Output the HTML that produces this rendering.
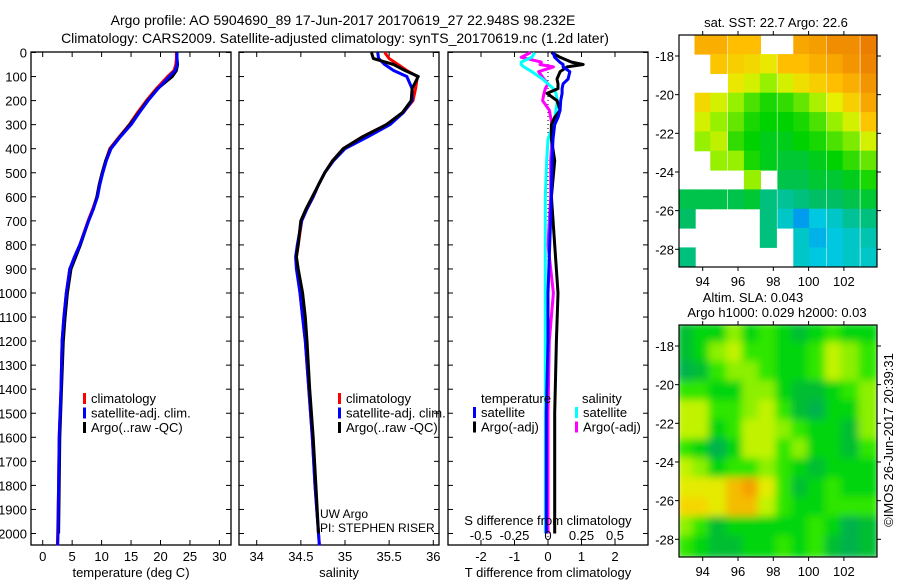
<!DOCTYPE html>
<html><head><meta charset="utf-8">
<style>
html,body{margin:0;padding:0;background:#fff;}
svg{display:block;font-family:"Liberation Sans",sans-serif;}
text{fill:#000;}
</style></head>
<body>
<svg id="fig" width="900" height="580" viewBox="0 0 900 580">
<text x="343" y="25" font-size="14" text-anchor="middle">Argo profile: AO 5904690_89 17-Jun-2017 20170619_27 22.948S 98.232E</text>
<text x="335" y="43" font-size="14" text-anchor="middle">Climatology: CARS2009. Satellite-adjusted climatology: synTS_20170619.nc (1.2d later)</text>
<g id="g1"></g>
<g id="g2"></g>
<g id="g3"></g>
<g id="g4"></g>
<g id="g5"></g>
<text x="776" y="27" font-size="13" text-anchor="middle">sat. SST: 22.7 Argo: 22.6</text>
<text x="753" y="302" font-size="13" text-anchor="middle">Altim. SLA: 0.043</text>
<text x="777" y="317" font-size="13" text-anchor="middle">Argo h1000: 0.029 h2000: 0.03</text>
<text transform="translate(893,440) rotate(-90)" font-size="13" text-anchor="middle">©IMOS 26-Jun-2017 20:39:31</text>
<text x="320" y="518" font-size="12">UW Argo</text>
<text x="320" y="532" font-size="12">PI: STEPHEN RISER</text>
</svg>
<script>
// ---- profile data ----
const depths = [0,25,50,75,100,150,200,250,300,350,400,450,500,550,600,650,700,800,850,900,1000,1100,1200,1400,1600,1800,2000,2050];
const tempClim = [22.7,22.7,22.6,22.3,21.2,19.3,17.6,16.1,14.7,13.0,11.4,10.7,10.1,9.6,9.2,8.5,7.7,6.3,5.4,4.6,4.0,3.6,3.3,3.1,2.8,2.7,2.55,2.5];
const tempSat  = [22.8,22.8,22.8,22.5,21.5,19.6,17.9,16.4,15.0,13.2,11.6,10.8,10.2,9.7,9.3,8.6,7.8,6.3,5.4,4.6,4.0,3.6,3.3,3.1,2.8,2.7,2.6,2.55];
const tempArgo = [22.8,22.8,22.9,22.7,22.0,19.5,17.8,16.3,14.8,13.1,11.5,10.7,10.1,9.6,9.2,8.6,7.8,6.4,5.6,4.8,4.2,3.8,3.5,3.2,2.9,2.8,2.7,null];
const salClim = [35.45,35.5,35.6,35.7,35.82,35.80,35.77,35.66,35.47,35.2,34.98,34.86,34.77,34.70,34.64,34.57,34.51,34.47,34.45,34.46,34.49,34.52,34.55,34.59,34.63,34.66,34.70,34.71];
const salSat  = [35.37,35.38,35.45,35.55,35.70,35.76,35.76,35.66,35.51,35.26,35.0,34.87,34.77,34.70,34.64,34.57,34.51,34.46,34.44,34.45,34.49,34.52,34.55,34.59,34.63,34.66,34.70,34.71];
const salArgo = [35.3,35.32,35.55,35.68,35.83,35.76,35.75,35.65,35.47,35.2,34.98,34.86,34.77,34.70,34.63,34.56,34.50,34.47,34.45,34.47,34.52,34.55,34.57,34.60,34.64,34.67,34.70,null];
const diffDepths = [0,20,40,50,60,80,110,130,150,170,200,240,270,300,360,450,600,800,1000,1200,1500,1800,2000];
const dTSat  = [0.15,0.2,0.35,0.45,0.45,0.65,0.6,0.45,0.42,0.42,0.38,0.36,0.3,0.2,0.15,0.12,0.1,0.05,0.0,0.0,-0.05,-0.05,-0.05];
const dTArgo = [0.1,0.36,0.7,1.05,0.57,0.36,0.27,0.3,0.3,-0.03,0.27,0.36,0.2,0.1,0.1,0.2,0.1,0.2,0.3,0.25,0.2,0.2,0.2];
const dSSat  = [-0.1,-0.12,-0.2,-0.2,-0.18,-0.12,-0.04,0.0,0.04,0.06,0.07,0.06,0.05,0.04,0.0,-0.01,-0.02,-0.02,-0.02,-0.02,-0.02,-0.02,-0.02];
const dSArgo = [-0.13,-0.2,-0.05,-0.06,0.04,-0.07,-0.03,0.0,-0.02,-0.03,-0.04,0.01,0.02,0.03,0.03,0.02,0.02,0.0,0.04,0.01,0.0,0.0,0.0];
const depthTicks = [0,100,200,300,400,500,600,700,800,900,1000,1100,1200,1300,1400,1500,1600,1700,1800,1900,2000];
const tempTicks = [0,5,10,15,20,25,30];
const salTicks = [34,34.5,35,35.5,36];
const dTTicks = [-2,-1,0,1,2];
const dSTicks = [-0.5,-0.25,0,0.25,0.5];
const dSTickLabels = ["-0.5","-0.25","0","0.25","0.5"];
// ---- map data ----
const mapLats = [-17.4,-18.4,-19.4,-20.4,-21.4,-22.4,-23.4,-24.4,-25.4,-26.4,-27.4,-28.4];
const mapLons = [93.1,94.0,94.9,95.9,96.8,97.7,98.7,99.6,100.5,101.5,102.4,103.4];
const latTicks = [-18,-20,-22,-24,-26,-28];
const lonTicks = [94,96,98,100,102];
const sstGrid = [
[null,24.2,24.2,24.0,24.0,null,null,24.3,24.4,24.6,24.6,24.8],
[null,null,23.9,23.8,23.7,23.5,24.0,24.0,24.2,24.3,24.5,24.7],
[null,null,null,23.5,23.3,23.0,23.3,23.6,23.8,24.0,24.2,24.5],
[null,23.7,23.3,23.0,22.7,22.5,22.6,22.8,23.1,23.4,23.8,24.3],
[null,23.3,23.0,22.8,22.5,22.4,22.4,22.5,22.7,23.0,23.3,23.9],
[null,23.0,23.2,22.6,22.4,22.3,22.3,22.4,22.5,22.7,22.9,23.3],
[null,null,23.0,23.0,22.5,22.3,22.2,22.2,22.3,22.4,22.6,22.8],
[null,null,null,null,23.0,null,22.1,22.1,22.2,22.2,22.3,22.5],
[22.1,22.1,22.1,22.1,22.2,21.9,21.8,21.9,22.0,22.0,22.1,22.2],
[22.0,null,null,null,null,21.9,21.6,21.3,21.5,21.6,21.8,21.9],
[null,null,null,null,null,21.9,null,21.6,21.4,21.5,21.6,21.7],
[21.9,null,null,null,null,null,null,21.6,21.5,21.5,21.6,21.6]];
const slaGrid = [
[.02,.03,.03,.05,.03,.04,.03,.02,.03,.04,.03,.03],
[.02,.03,.05,.06,.04,.04,.03,.03,.04,.06,.05,.04],
[.01,.02,.04,.05,.05,.04,.03,.03,.04,.06,.05,.04],
[.04,.04,.03,.03,.05,.05,.03,.02,.02,.03,.04,.05],
[.06,.06,.04,.04,.05,.06,.04,.02,.01,.03,.03,.05],
[.06,.06,.03,.04,.06,.06,.05,.04,.03,.03,.02,.05],
[.04,.03,.01,.03,.06,.06,.04,.05,.03,.03,.02,.04],
[.06,.05,.03,.04,.04,.05,.04,.03,.02,.03,.03,.03],
[.07,.07,.07,.09,.10,.07,.04,.02,.03,.04,.03,.03],
[.08,.08,.07,.09,.09,.06,.04,.03,.03,.04,.04,.04],
[.05,.04,.02,.03,.03,.03,.03,.03,.04,.03,.01,.02],
[.04,.03,.02,.02,.03,.03,.04,.03,.04,.02,.01,.02]];

const NS='http://www.w3.org/2000/svg';
function mk(parent,tag,attrs){const e=document.createElementNS(NS,tag);for(const k in attrs)e.setAttribute(k,attrs[k]);parent.appendChild(e);return e;}
const yD = d => 52.5 + d*0.2405;
const TOP=52, BOT=545;

function panel(g,left,right,xf,ticks,labels,ylabels,xtitle){
  const r=mk(g,'rect',{x:left,y:TOP,width:right-left,height:BOT-TOP,fill:'none',stroke:'#000','stroke-width':1.3});
  
  
  depthTicks.forEach(d=>{
    const y=yD(d);
    mk(g,'line',{x1:left,x2:left+5,y1:y,y2:y,stroke:'#000'});
    mk(g,'line',{x1:right-5,x2:right,y1:y,y2:y,stroke:'#000'});
    if(ylabels){const t=mk(g,'text',{x:left-4,y:y+5,'font-size':13,'text-anchor':'end'});t.textContent=d;
      
      }
  });
  ticks.forEach((v,i)=>{
    const x=xf(v);
    mk(g,'line',{x1:x,x2:x,y1:BOT,y2:BOT-5,stroke:'#000'});
    mk(g,'line',{x1:x,x2:x,y1:TOP,y2:TOP+5,stroke:'#000'});
    const t=mk(g,'text',{x:x,y:561,'font-size':13,'text-anchor':'middle'});t.textContent=labels[i];
    
    
  });
  const t=mk(g,'text',{x:(left+right)/2,y:577,'font-size':13,'text-anchor':'middle'});t.textContent=xtitle;
  
  
}
function line(g,xs,ds,xf,color,w,name){
  let p='';let started=false;
  ds.forEach((d,i)=>{const v=xs[i];if(v===null||v===undefined)return;p+=(started?'L':'M')+xf(v).toFixed(1)+','+yD(d).toFixed(1);started=true;});
  const e=mk(g,'path',{d:p,fill:'none',stroke:color,'stroke-width':w,'stroke-linejoin':'round'});
  
  
}
function legend(g,x,y,items){
  items.forEach((it,i)=>{
    const yy=y+i*14.5;
    const m=mk(g,'rect',{x:x,y:yy-10,width:3,height:11,fill:it[0]});
    
    
    const t=mk(g,'text',{x:x+8,y:yy,'font-size':13});t.textContent=it[1];
    
    
  });
}
// Panel 1
const g1=document.getElementById('g1');
const xT=v=>42.7+v*5.89;
panel(g1,31,231,xT,tempTicks,tempTicks.map(String),true,'temperature (deg C)');
line(g1,tempClim,depths,xT,'#f00',3,'temp-climatology-line');
line(g1,tempArgo,depths,xT,'#000',3,'temp-argo-line');
line(g1,tempSat,depths,xT,'#00f',3,'temp-satellite-line');
legend(g1,83,403,[['#f00','climatology'],['#00f','satellite-adj. clim.'],['#000','Argo(..raw -QC)']]);
// Panel 2
const g2=document.getElementById('g2');
const xS=v=>256.7+(v-34)*88.3;
panel(g2,239,439,xS,salTicks,salTicks.map(String),false,'salinity');
line(g2,salClim,depths,xS,'#f00',3,'sal-climatology-line');
line(g2,salSat,depths,xS,'#00f',3,'sal-satellite-line');
line(g2,salArgo,depths,xS,'#000',3,'sal-argo-line');
legend(g2,338,403,[['#f00','climatology'],['#00f','satellite-adj. clim.'],['#000','Argo(..raw -QC)']]);
// Panel 3
const g3=document.getElementById('g3');
const xdT=v=>548+v*33.5, xdS=v=>548+v*134;
panel(g3,448,648,xdT,dTTicks,dTTicks.map(String),false,'T difference from climatology');
const zl=mk(g3,'line',{x1:548,x2:548,y1:TOP,y2:BOT,stroke:'#000','stroke-dasharray':'1,3'});


line(g3,dSArgo,diffDepths,xdS,'#f0f',3,'ds-argo-line');
line(g3,dSSat,diffDepths,xdS,'#0ff',3,'ds-satellite-line');
line(g3,dTArgo,diffDepths,xdT,'#000',3,'dt-argo-line');
line(g3,dTSat,diffDepths,xdT,'#00f',3,'dt-satellite-line');
dSTicks.forEach((v,i)=>{const t=mk(g3,'text',{x:xdS(v),y:540,'font-size':13,'text-anchor':'middle'});t.textContent=dSTickLabels[i];
  
  });
const st=mk(g3,'text',{x:548,y:525,'font-size':13,'text-anchor':'middle'});st.textContent='S difference from climatology';


const th=mk(g3,'text',{x:481,y:403,'font-size':13});th.textContent='temperature';


const sh=mk(g3,'text',{x:582,y:403,'font-size':13});sh.textContent='salinity';


legend(g3,473,417,[['#00f','satellite'],['#000','Argo(-adj)']]);
legend(g3,575,417,[['#0ff','satellite'],['#f0f','Argo(-adj)']]);

// Maps
const ML=679, MR=877;
const xLon=l=>702.7+(l-94)*17.65;
function lerpColor(stops,v){
  if(v<=stops[0][0])return 'rgb('+stops[0][1].join(',')+')';
  for(let i=1;i<stops.length;i++){if(v<=stops[i][0]){const a=stops[i-1],b=stops[i];const f=(v-a[0])/(b[0]-a[0]);
    return 'rgb('+a[1].map((c,k)=>Math.round(c+(b[1][k]-c)*f)).join(',')+')';}}
  return 'rgb('+stops[stops.length-1][1].join(',')+')';
}
const sstStops=[[21.0,[0,90,255]],[21.5,[0,200,225]],[22.0,[0,190,100]],[22.4,[0,210,0]],[23.0,[150,240,0]],[23.4,[230,240,0]],[24.0,[255,190,0]],[24.8,[235,125,0]]];
const slaStops=[[0.0,[0,165,100]],[0.02,[0,190,50]],[0.035,[0,225,0]],[0.05,[140,240,0]],[0.065,[220,245,0]],[0.08,[245,215,0]],[0.10,[245,160,0]]];
function mapAxes(g,top,grid,stops,name,blur){
  const bottom=top+232;
  const yLat=l=>top+21+(-18-l)*19.33;
  const cw=(MR-ML)/mapLons.length, ch=(bottom-top)/mapLats.length;
  const clip='clip'+name;
  const cp=mk(g,'clipPath',{id:clip});mk(cp,'rect',{x:ML,y:top,width:MR-ML,height:bottom-top});
  const cg=mk(g,'g',{'clip-path':'url(#'+clip+')'});
  const inner=mk(cg,'g',blur?{filter:'url(#blur)'}:{});
  mapLats.forEach((la,r)=>mapLons.forEach((lo,c)=>{
    const v=grid[r][c]; if(v===null)return;
    const x=xLon(lo)-cw/2, y=yLat(la)-ch/2;
    const e=mk(inner,'rect',{x:(blur?x-2:x).toFixed(1),y:(blur?y-2:y).toFixed(1),width:(cw+(blur?4:0.6)).toFixed(1),height:(ch+(blur?4:0.6)).toFixed(1),fill:lerpColor(stops,v)});
    
    
  }));
  const fr=mk(g,'rect',{x:ML,y:top,width:MR-ML,height:bottom-top,fill:'none',stroke:'#000','stroke-width':1.2});
  
  
  latTicks.forEach(l=>{const y=yLat(l);
    mk(g,'line',{x1:ML-4,x2:ML,y1:y,y2:y,stroke:'#000'});mk(g,'line',{x1:MR,x2:MR+4,y1:y,y2:y,stroke:'#000'});
    const t=mk(g,'text',{x:ML-5,y:y+5,'font-size':13,'text-anchor':'end'});t.textContent=l;
    
    });
  lonTicks.forEach(l=>{const x=xLon(l);
    mk(g,'line',{x1:x,x2:x,y1:bottom,y2:bottom+4,stroke:'#000'});mk(g,'line',{x1:x,x2:x,y1:top-4,y2:top,stroke:'#000'});
    const t=mk(g,'text',{x:x,y:bottom+19,'font-size':13,'text-anchor':'middle'});t.textContent=l;
    
    });
}
const svg=document.getElementById('fig');
const defs=mk(svg,'defs',{});const f=mk(defs,'filter',{id:'blur',x:'-10%',y:'-10%',width:'120%',height:'120%'});
mk(f,'feGaussianBlur',{stdDeviation:4});
mapAxes(document.getElementById('g4'),35,sstGrid,sstStops,'sst',false);
mapAxes(document.getElementById('g5'),325,slaGrid,slaStops,'sla',true);
</script>
</body></html>
